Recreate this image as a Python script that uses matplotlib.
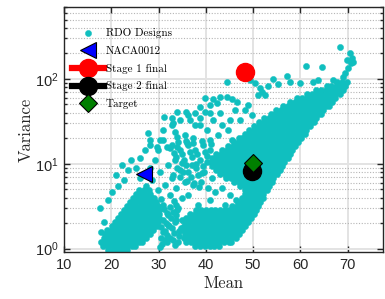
import numpy as np
import matplotlib
matplotlib.use('Agg')
import matplotlib.pyplot as plt
from matplotlib.ticker import LogLocator, NullFormatter, FixedLocator

plt.rcParams['font.family'] = ['Liberation Sans', 'DejaVu Sans']
plt.rcParams['mathtext.fontset'] = 'custom'
plt.rcParams['mathtext.rm'] = 'Liberation Sans'

# --- RDO designs: dense band, read row by row (variance level -> means) ---
core_var = [91.5, 82.1, 73.6, 66.1, 59.3, 53.2, 47.7, 42.8, 38.4, 34.5, 31.0, 27.8,
            24.9, 22.4, 20.1, 18.0, 16.2, 14.5, 13.0, 11.7, 10.5, 9.40, 8.43, 7.56,
            6.79, 6.09, 5.47, 4.91, 4.40, 3.95, 3.54, 3.18, 2.85, 2.56, 2.30, 2.06,
            1.85, 1.66, 1.49, 1.34, 1.20, 1.08]
core_mean = [
    [67.8, 68.8, 69.8],
    [65.6, 66.6, 67.6, 68.6, 69.5],
    [63.4, 64.4, 65.4, 66.4, 67.4, 68.4, 69.0],
    [61.4, 62.4, 63.4, 64.4, 65.4, 66.4, 67.4, 68.3],
    [59.4, 60.4, 61.4, 62.4, 63.4, 64.4, 65.4, 66.4, 67.4],
    [57.9, 58.9, 59.9, 60.9, 61.9, 62.9, 63.9, 64.9, 65.9, 66.8],
    [56.4, 57.4, 58.4, 59.4, 60.4, 61.4, 62.4, 63.4, 64.4, 65.4, 66.0],
    [54.9, 55.9, 56.9, 57.9, 58.9, 59.9, 60.9, 61.9, 62.9, 63.9, 64.9],
    [53.7, 54.7, 55.7, 56.7, 57.7, 58.7, 59.7, 60.7, 61.7, 62.7, 63.7, 64.3],
    [52.4, 53.4, 54.4, 55.4, 56.4, 57.4, 58.4, 59.4, 60.4, 61.4, 62.4, 63.4],
    [51.3, 52.3, 53.3, 54.3, 55.3, 56.3, 57.3, 58.3, 59.3, 60.3, 61.3, 62.3, 62.9],
    [50.3, 51.3, 52.3, 53.3, 54.3, 55.3, 56.3, 57.3, 58.3, 59.3, 60.3, 61.3, 62.1],
    [49.2, 50.2, 51.2, 52.2, 53.2, 54.2, 55.2, 56.2, 57.2, 58.2, 59.2, 60.2, 61.2],
    [48.2, 49.2, 50.2, 51.2, 52.2, 53.2, 54.2, 55.2, 56.2, 57.2, 58.2, 59.2, 60.2, 61.0],
    [47.1, 48.1, 49.1, 50.1, 51.1, 52.1, 53.1, 54.1, 55.1, 56.1, 57.1, 58.1, 59.1, 60.1],
    [46.0, 47.0, 48.0, 49.0, 50.0, 51.0, 52.0, 53.0, 54.0, 55.0, 56.0, 57.0, 58.0, 59.0, 59.6],
    [44.8, 45.8, 46.8, 47.8, 48.8, 49.8, 50.8, 51.8, 52.8, 53.8, 54.8, 55.8, 56.8, 57.8, 58.8],
    [43.5, 44.5, 45.5, 46.5, 47.5, 48.5, 49.5, 50.5, 51.5, 52.5, 53.5, 54.5, 55.5, 56.5, 57.5, 58.3],
    [42.2, 43.2, 44.2, 45.2, 46.2, 47.2, 48.2, 49.2, 50.2, 51.2, 52.2, 53.2, 54.2, 55.2, 56.2, 57.2, 57.9],
    [41.4, 42.4, 43.4, 44.4, 45.4, 46.4, 47.4, 48.4, 49.4, 50.4, 51.4, 52.4, 53.4, 54.4, 55.4, 56.4, 57.4],
    [41.0, 42.0, 43.0, 44.0, 45.0, 46.0, 47.0, 48.0, 49.0, 50.0, 51.0, 52.0, 53.0, 54.0, 55.0, 56.0, 56.6],
    [41.4, 42.4, 43.4, 44.4, 45.4, 46.4, 47.4, 48.4, 49.4, 50.4, 51.4, 52.4, 53.4, 54.4, 55.4, 56.2],
    [42.2, 43.2, 44.2, 45.2, 46.2, 47.2, 48.2, 49.2, 50.2, 51.2, 52.2, 53.2, 54.2, 55.2, 55.6],
    [43.1, 44.1, 45.1, 46.1, 47.1, 48.1, 49.1, 50.1, 51.1, 52.1, 53.1, 54.1, 55.0],
    [44.3, 45.3, 46.3, 47.3, 48.3, 49.3, 50.3, 51.3, 52.3, 53.3, 54.3],
    [46.0, 47.0, 48.0, 49.0, 50.0, 51.0, 52.0, 53.0, 54.0],
    [47.3, 48.3, 49.3, 50.3, 51.3, 52.3, 53.3],
    [48.2, 49.2, 50.2, 51.2, 52.2, 53.0],
    [48.2, 49.2, 50.2, 51.2, 52.2],
    [47.7, 48.7, 49.7, 50.7, 51.7, 52.1],
    [46.9, 47.9, 48.9, 49.9, 50.9, 51.5],
    [45.6, 46.6, 47.6, 48.6, 49.6, 50.6, 51.1],
    [38.0, 39.0, 40.0, 41.0, 42.0, 43.0, 44.0, 45.0, 46.0, 47.0, 48.0, 49.0, 50.0, 50.7],
    [36.7, 37.7, 38.7, 39.7, 40.7, 41.7, 42.7, 43.7, 44.7, 45.7, 46.7, 47.7, 48.7, 49.7, 50.3],
    [35.9, 36.9, 37.9, 38.9, 39.9, 40.9, 41.9, 42.9, 43.9, 44.9, 45.9, 46.9, 47.9, 48.9, 49.6],
    [35.5, 36.5, 37.5, 38.5, 39.5, 40.5, 41.5, 42.5, 43.5, 44.5, 45.5, 46.5, 47.5, 48.5, 49.0],
    [35.3, 36.3, 37.3, 38.3, 39.3, 40.3, 41.3, 42.3, 43.3, 44.3, 45.3, 46.3, 47.3, 48.3],
    [35.0, 36.0, 37.0, 38.0, 39.0, 40.0, 41.0, 42.0, 43.0, 44.0, 45.0, 46.0, 47.0, 47.7],
    [35.5, 36.5, 37.5, 38.5, 39.5, 40.5, 41.5, 42.5, 43.5, 44.5, 45.5, 46.5, 47.1],
    [35.3, 36.3, 37.3, 38.3, 39.3, 40.3, 41.3, 42.3, 43.3, 44.3, 45.3, 46.3],
    [35.9, 36.9, 37.9, 38.9, 39.9, 40.9, 41.9, 42.9, 43.9, 44.9, 45.4],
    [37.8, 38.8, 39.8, 40.8, 41.8, 42.8],
]

# lower-left lobe
lobe_var = [0.97, 1.08, 1.20, 1.34, 1.49, 1.66, 1.85, 2.06, 2.30, 2.56, 2.85, 3.18,
            3.54, 3.95, 4.40, 4.91]
lobe_mean = [
    [19.4, 20.4, 21.4, 22.4, 23.4],
    [18.3, 19.3, 20.3, 21.3, 22.3, 23.3, 24.3, 25.1],
    [17.9, 18.9, 19.9, 20.9, 21.9, 22.9, 23.9, 24.9, 25.9, 26.4],
    [18.4, 19.4, 20.4, 21.4, 22.4, 23.4, 24.4, 25.4, 26.4, 27.4],
    [18.6, 19.6, 20.6, 21.6, 22.6, 23.6, 24.6, 25.6, 26.6, 27.6, 28.3],
    [19.1, 20.1, 21.1, 22.1, 23.1, 24.1, 25.1, 26.1, 27.1, 28.1, 28.9],
    [20.1, 21.1, 22.1, 23.1, 24.1, 25.1, 26.1, 27.1, 28.1, 29.1, 29.6],
    [20.8, 21.8, 22.8, 23.8, 24.8, 25.8, 26.8, 27.8, 28.8, 29.8],
    [21.4, 22.4, 23.4, 24.4, 25.4, 26.4, 27.4, 28.4, 29.4, 30.2],
    [22.1, 23.1, 24.1, 25.1, 26.1, 27.1, 28.1, 29.1, 30.1],
    [22.7, 23.7, 24.7, 25.7, 26.7, 27.7, 28.7, 29.7, 30.1],
    [23.3, 24.3, 25.3, 26.3, 27.3, 28.3, 29.3, 29.9],
    [24.0, 25.0, 26.0, 27.0, 28.0, 29.0, 29.5],
    [24.6, 25.6, 26.6, 27.6, 28.6, 29.0],
    [25.2, 26.2, 27.2, 28.2],
    [25.9, 26.9, 27.9],
]

# scattered designs around the dense parts
extra_mean = [17.8, 18.4, 17.6, 19.3, 20.1, 21.4, 21.0, 22.7, 23.5, 22.3, 24.2, 25.2,
              26.1, 27.3, 28.6, 28.2, 29.2, 30.3, 31.4, 29.9, 32.4, 32.8, 32.0, 33.5,
              26.1, 27.1, 28.2, 29.9, 30.9, 32.4, 34.1, 34.5, 33.7, 34.9, 30.9, 32.0,
              32.8, 31.4, 33.5, 30.3, 32.4, 33.7, 34.1, 30.9, 32.0, 31.0, 33.0, 31.8,
              34.4, 29.6, 30.6, 33.2,
              30.9, 33.0, 33.9, 36.6, 38.8, 40.9, 42.3, 36.0, 29.7, 31.8, 30.3, 32.8,
              34.5, 35.8, 37.7, 38.8, 39.8, 41.5, 43.0, 44.5, 45.5, 40.9, 44.5, 49.3,
              50.4, 51.4, 51.9, 52.5, 51.0, 46.6, 48.3, 49.7, 47.2, 48.9, 39.8, 41.5,
              43.0, 45.1, 40.2, 42.6, 44.7, 46.2, 47.6, 32.8, 36.2, 37.7, 35.6, 33.5,
              37.3, 38.8, 40.9, 43.4, 45.5, 27.8, 28.2, 33.9, 31.2,
              32.8, 34.5, 36.2, 37.7, 39.4, 40.9, 33.7, 35.4, 37.1, 38.8, 40.2, 35.8,
              36.2, 37.9, 39.6, 41.3, 35.6, 37.3, 39.0, 40.4, 41.9, 43.4, 36.2, 45.1,
              46.4, 44.0, 40.9, 38.3,
              30.8, 31.9, 33.0, 34.2, 30.5, 31.5, 32.6, 33.8, 34.9, 31.2, 32.4, 33.6,
              34.8, 33.2,
              33.2, 34.9, 36.6, 38.2, 39.9, 35.8, 37.4, 39.1, 41.0, 34.0,
              33.0, 34.6, 36.9, 38.4, 33.9, 37.0, 39.4, 40.3, 35.0, 38.6,
              31.3, 32.2, 33.4, 34.3, 30.6, 31.7, 33.9, 36.0, 37.6, 39.2, 35.2, 38.0,
              68.4, 61.2, 64.5, 57.1, 70.5, 70.9, 70.7, 70.0, 69.4, 69.0, 71.1, 69.8,
              54.2, 57.8, 59.9, 62.6, 63.7, 66.9, 55.2, 53.1]
extra_var = [1.57, 2.06, 3.01, 3.74, 4.65, 5.47, 7.36, 6.43, 8.43, 9.66, 11.1, 8.90,
             6.79, 5.47, 6.43, 8.90, 11.1, 7.98, 5.62, 4.91, 4.28, 6.79, 9.66, 11.1,
             11.7, 14.5, 16.6, 14.5, 19.0, 15.3, 18.0, 8.43, 5.18, 3.95, 3.27, 2.49,
             1.75, 1.27, 1.10, 1.05, 1.34, 2.18, 3.01, 1.57, 1.90, 2.20, 2.70, 1.45,
             1.40, 2.70, 3.90, 3.60,
             24.9, 30.1, 20.6, 32.7, 46.5, 39.5, 51.8, 17.5, 15.7, 15.7, 19.0, 28.5,
             32.7, 40.6, 39.5, 34.5, 59.3, 57.7, 60.9, 60.9, 57.7, 49.1, 91.5, 96.6,
             89.0, 77.8, 69.8, 64.3, 64.3, 53.2, 42.8, 37.4, 32.6, 49.1, 40.6, 32.6,
             39.5, 32.6, 24.9, 21.8, 24.9, 42.8, 20.1, 34.5, 37.4, 28.5, 21.8, 23.6,
             20.1, 28.5, 19.0, 28.5, 19.0, 23.0, 19.0, 41.0, 36.0,
             16.6, 14.5, 16.6, 14.5, 16.6, 14.5, 12.0, 11.1, 12.0, 11.1, 12.3, 9.66,
             7.98, 8.90, 7.98, 6.79, 6.09, 5.62, 6.09, 5.18, 4.65, 5.18, 4.28, 4.28,
             3.74, 3.27, 3.74, 3.27,
             1.15, 1.20, 1.25, 1.20, 1.80, 2.00, 2.30, 2.50, 2.20, 2.90, 3.10, 3.30,
             1.75, 1.55,
             13.5, 13.0, 13.6, 13.2, 13.8, 18.5, 17.8, 18.8, 17.2, 15.8,
             7.40, 7.00, 6.90, 7.30, 9.00, 9.80, 9.50, 10.6, 10.3, 5.30,
             1.62, 1.85, 2.05, 1.60, 1.35, 2.60, 2.85, 6.20, 5.90, 7.80, 8.10, 10.0,
             236, 141, 137, 108, 201, 175, 153, 134, 117, 105, 160, 166,
             99.2, 91.5, 89.0, 91.5, 96.6, 96.6, 86.7, 82.1]

# highlighted designs
naca_mean, naca_var = 27.0, 7.5
stage1_mean, stage1_var = 48.3, 120.0
stage2_mean, stage2_var = 49.7, 8.2
target_mean, target_var = 49.9, 10.1

x_ticks = [10, 20, 30, 40, 50, 60, 70]

# assemble cloud
rdo_mean, rdo_var = [], []
for v, row in zip(core_var + lobe_var, core_mean + lobe_mean):
    rdo_mean += row
    rdo_var += [v] * len(row)
rdo_mean += extra_mean
rdo_var += extra_var

fig = plt.figure(figsize=(3.85, 2.99), dpi=100)
ax = fig.add_axes([64 / 385, 47 / 299, 319 / 385, 245 / 299])

cyan = '#10bfbf'
ax.scatter(rdo_mean, rdo_var, s=20, c=cyan, edgecolors=cyan, linewidths=0.3,
           label='RDO Designs', zorder=2)
ax.plot([naca_mean], [naca_var], '<', color='#0000ff', mec='k', mew=0.8, ms=11.5,
        label='NACA0012', zorder=3)
ax.plot([stage1_mean], [stage1_var], '-o', color='#ff0000', mec='#ff0000', lw=4.5,
        ms=13, label='Stage 1 final', zorder=4)
ax.plot([stage2_mean], [stage2_var], '-o', color='k', mec='k', lw=4.5, ms=13,
        label='Stage 2 final', zorder=4)
ax.plot([target_mean], [target_var], 'D', color='#007f00', mec='k', mew=0.8, ms=9,
        label='Target', zorder=5)

ax.set_yscale('log')
ax.set_xlim(10, 77.5)
ax.set_ylim(0.914, 703)
ax.xaxis.set_major_locator(FixedLocator(x_ticks))
ax.yaxis.set_major_locator(LogLocator(base=10, numticks=10))
ax.yaxis.set_minor_locator(LogLocator(base=10, subs=np.arange(2, 10), numticks=20))
ax.yaxis.set_minor_formatter(NullFormatter())

ax.set_axisbelow(True)
ax.grid(True, which='major', color='#e3e3e3', lw=1.4, ls='-')
ax.grid(True, which='minor', axis='y', color='#b5b5b5', lw=0.8, ls=(0, (1, 1.5)))

ax.tick_params(which='both', direction='in', top=True, right=True, colors='#262626',
               labelsize=10.5, width=1.0)
ax.tick_params(which='major', length=4, pad=4)
ax.tick_params(which='minor', length=2.5)
for sp in ax.spines.values():
    sp.set_color('#262626')
    sp.set_linewidth(1.0)

ax.set_xlabel('Mean', family='cmr10', fontsize=12, color='#262626', labelpad=3)
ax.set_ylabel('Variance', family='cmr10', fontsize=12, color='#262626', labelpad=1)

ax.legend(loc='upper left', bbox_to_anchor=(0.025, 0.913), frameon=False,
          prop={'family': 'cmr10', 'size': 8}, handlelength=2.9, handletextpad=0.15,
          labelspacing=0.7, borderpad=0, borderaxespad=0, numpoints=1, scatterpoints=1)

fig.savefig('out.png', dpi=100)
